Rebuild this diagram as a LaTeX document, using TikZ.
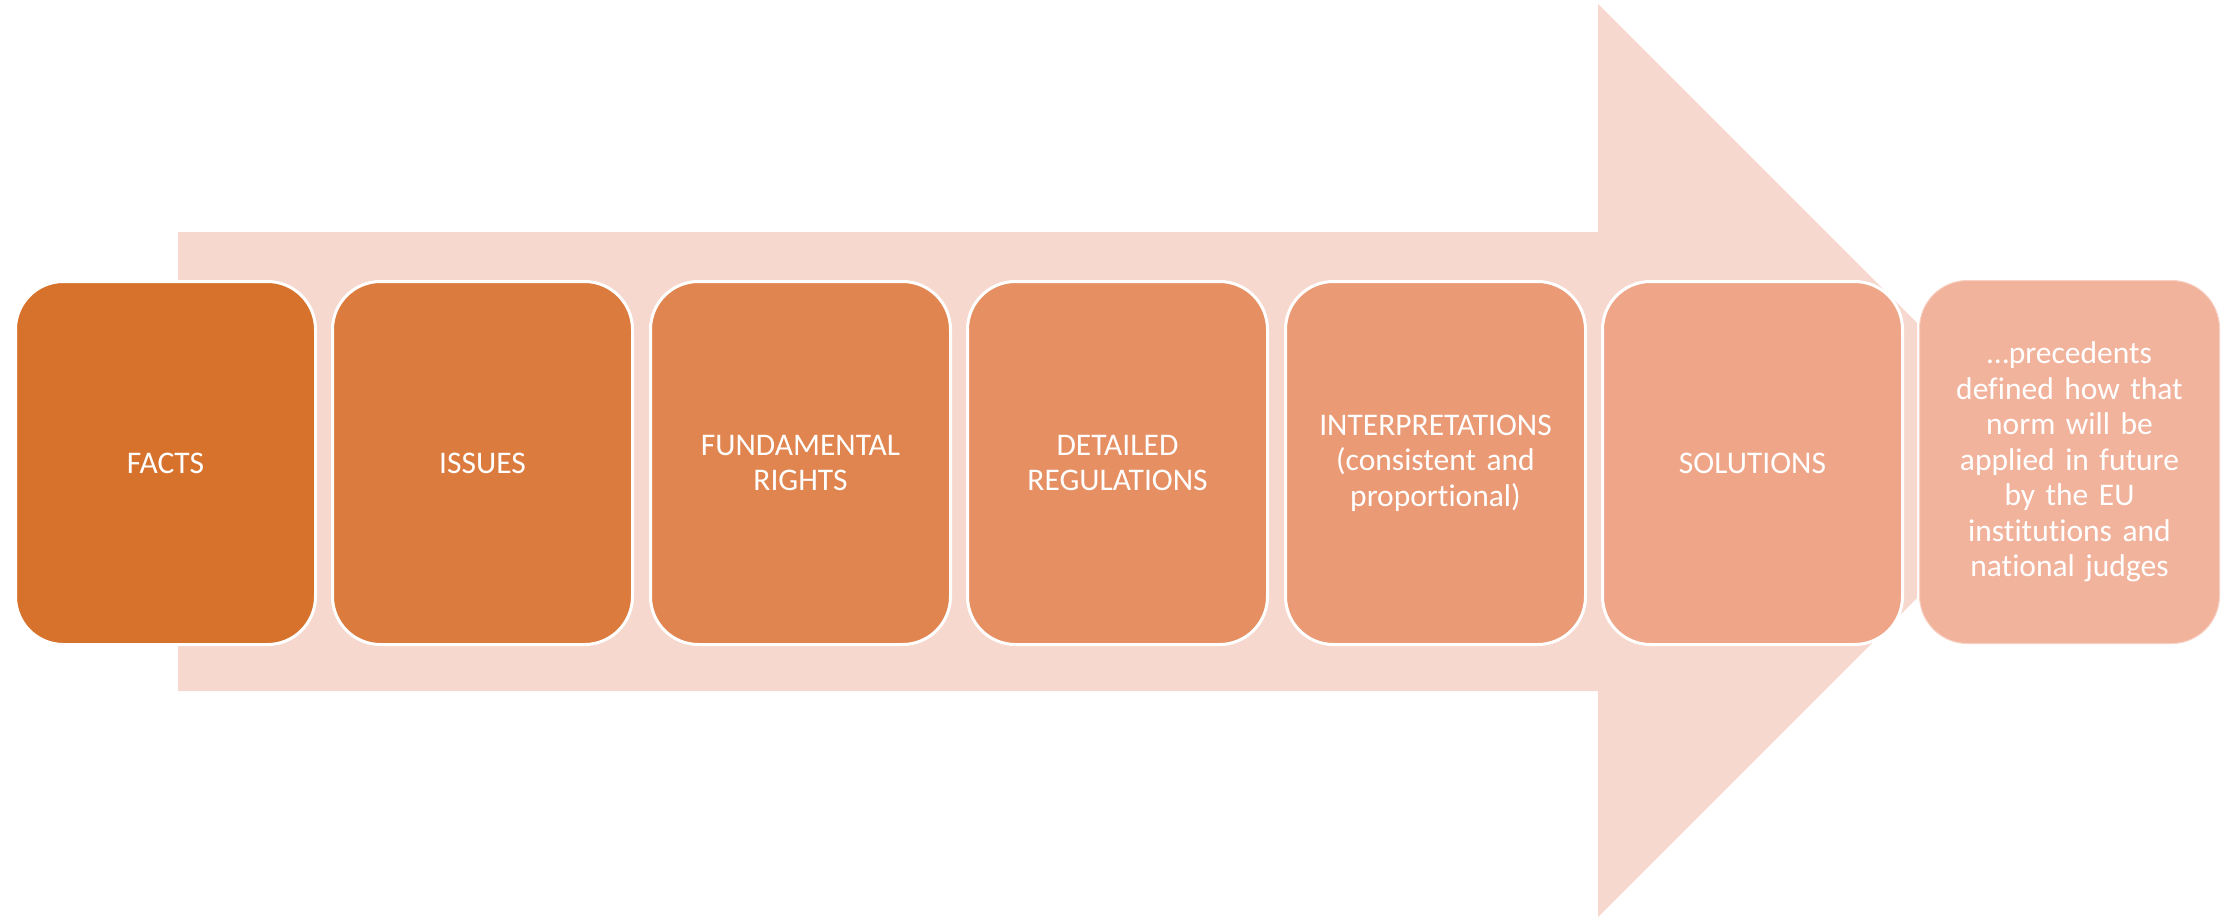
\documentclass[tikz,border=0pt]{standalone}
\usepackage{fontspec}
\setmainfont{Carlito}[Ligatures=NoCommon]
\definecolor{arrowpale}{RGB}{247,216,206}
\definecolor{cA}{RGB}{215,114,45}
\definecolor{cB}{RGB}{220,123,62}
\definecolor{cC}{RGB}{225,133,80}
\definecolor{cD}{RGB}{229,143,99}
\definecolor{cE}{RGB}{234,154,117}
\definecolor{cF}{RGB}{239,166,136}
\definecolor{cG}{RGB}{242,179,157}
\begin{document}
\begin{tikzpicture}[x=1pt,y=-1pt,
  stagebox/.style={rounded corners=48pt, draw=white, line width=3pt,
    minimum width=300pt, minimum height=363pt, text width=280pt,
    align=center, text=white, font=\fontsize{31.5}{35.5}\selectfont,
    inner sep=0pt, anchor=north west}]
\useasboundingbox (0,0) rectangle (2233,918);
% background arrow
\fill[arrowpale] (178,232) -- (1598,232) -- (1598,4) -- (1917,323) -- (1917,598)
  -- (1598,917) -- (1598,691) -- (178,691) -- cycle;
% stages
\node[stagebox, fill=cA] (facts) at (14,280) {FACTS};
\node[stagebox, fill=cB] (issues) at (331,280) {ISSUES};
\node[stagebox, fill=cC] (rights) at (649,280) {FUNDAMENTAL\\RIGHTS};
\node[stagebox, fill=cD] (regs) at (966,280) {DETAILED\\REGULATIONS};
\node[stagebox, fill=cE] (interp) at (1284,280) {INTERPRETATIONS\\(consistent and\\proportional)};
\node[stagebox, fill=cF] (sol) at (1601,280) {SOLUTIONS};
\node[stagebox, fill=cG, draw=white!40!cG, line width=1pt] (prec) at (1919,280)
  {\ldots precedents\\defined how that\\norm will be\\applied in future\\by the EU\\institutions and\\national judges};
\end{tikzpicture}
\end{document}
